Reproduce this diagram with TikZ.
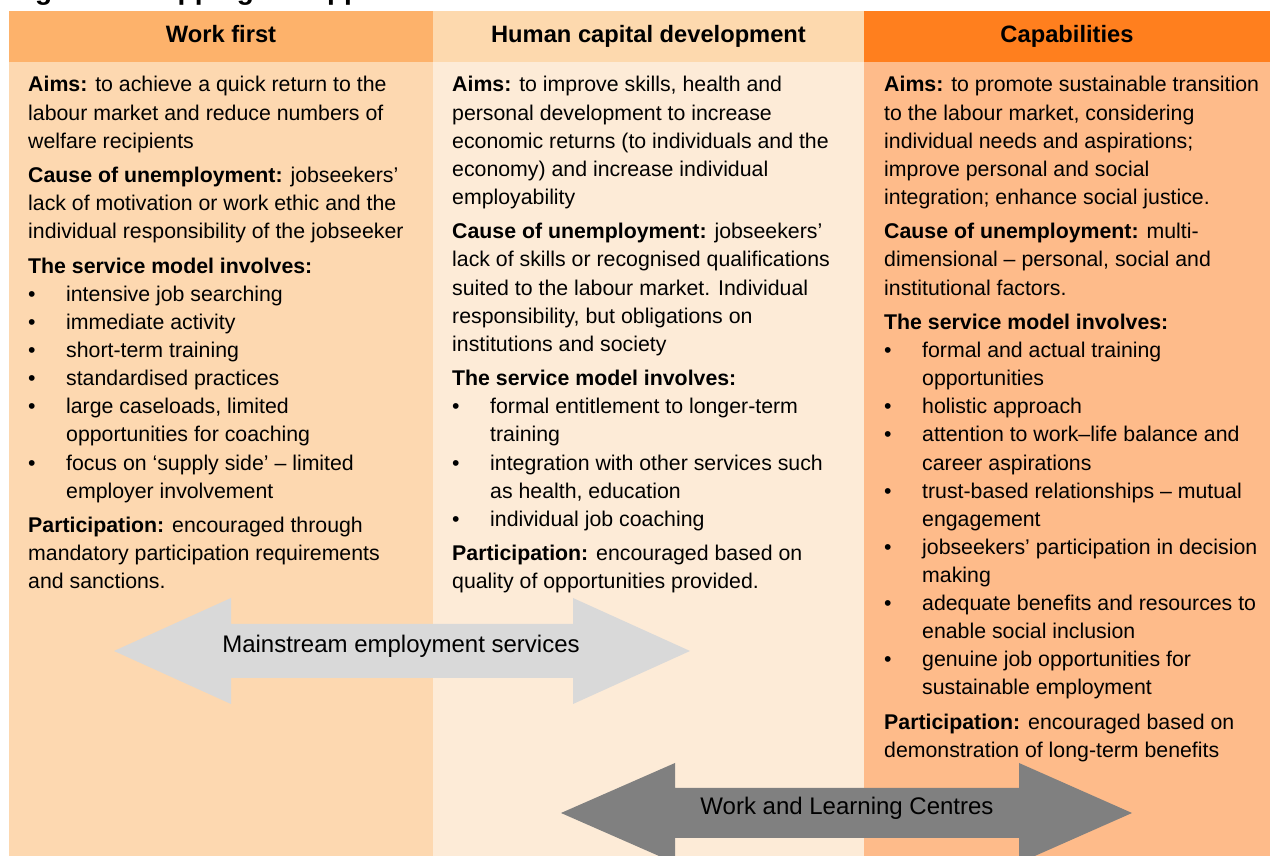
\documentclass[tikz,border=0pt]{standalone}
\usepackage{fontspec}
\setmainfont{Liberation Sans}
\definecolor{hdrA}{HTML}{FDB26B}
\definecolor{bodyA}{HTML}{FDD8B0}
\definecolor{hdrB}{HTML}{FDD9AE}
\definecolor{bodyB}{HTML}{FDEBD7}
\definecolor{hdrC}{HTML}{FF7F1E}
\definecolor{bodyC}{HTML}{FEBB8A}
\definecolor{arrLight}{HTML}{D9D9D9}
\definecolor{arrDark}{HTML}{808080}
\newcommand\myLn[1]{\hbox{#1}}
\newcommand\myBl[1]{\hbox{\hbox to 38pt{\textbullet\hss}#1}}
\newcommand\myCn[1]{\hbox{\hskip38pt #1}}
\newcommand\myGap{\vskip6.5pt}
\newcommand\myCol[1]{\vtop{\hsize=420pt\parindent=0pt\parskip=0pt\baselineskip=28.08pt\lineskiplimit=-100pt #1}}
\begin{document}
\begin{tikzpicture}[x=1pt,y=1pt,
  coltext/.style={anchor=base west, inner sep=0pt, font=\fontsize{21.3}{28.08}\selectfont},
  hdr/.style={anchor=base, inner sep=0pt, font=\fontsize{23.7}{28}\selectfont\bfseries},
  arrlbl/.style={anchor=base, inner sep=0pt, font=\fontsize{24}{28}\selectfont},
  ttl/.style={anchor=base west, inner sep=0pt, font=\fontsize{28}{32}\selectfont\bfseries}]
\useasboundingbox (0,0) rectangle (1270,856);
\clip (0,0) rectangle (1270,856);
\fill[white] (0,0) rectangle (1270,856);
% columns
\fill[bodyA] (9,0) rectangle (433,794);
\fill[hdrA] (9,794) rectangle (433,845);
\fill[bodyB] (433,0) rectangle (864,794);
\fill[hdrB] (433,794) rectangle (864,845);
\fill[bodyC] (864,0) rectangle (1270,794);
\fill[hdrC] (864,794) rectangle (1270,845);
% title (cut off at the top)
\node[ttl] (title) at (10,856) {Figure 1: Mapping the approaches of WLCs and mainstream services};
% headers
\node[hdr] (h1) at (221,813) {Work first};
\node[hdr] (h2) at (648.5,813) {Human capital development};
\node[hdr] (h3) at (1067,813) {Capabilities};
% column 1
\node[coltext] (t1) at (28,764) {\myCol{%
\myLn{\textbf{Aims:} to achieve a quick return to the}
\myLn{labour market and reduce numbers of}
\myLn{welfare recipients}
\myGap
\myLn{\textbf{Cause of unemployment:} jobseekers’}
\myLn{lack of motivation or work ethic and the}
\myLn{individual responsibility of the jobseeker}
\myGap
\myLn{\textbf{The service model involves:}}
\myBl{intensive job searching}
\myBl{immediate activity}
\myBl{short-term training}
\myBl{standardised practices}
\myBl{large caseloads, limited}
\myCn{opportunities for coaching}
\myBl{focus on ‘supply side’ – limited}
\myCn{employer involvement}
\myGap
\myLn{\textbf{Participation:} encouraged through}
\myLn{mandatory participation requirements}
\myLn{and sanctions.}}};
% column 2
\node[coltext] (t2) at (452,764) {\myCol{%
\myLn{\textbf{Aims:} to improve skills, health and}
\myLn{personal development to increase}
\myLn{economic returns (to individuals and the}
\myLn{economy) and increase individual}
\myLn{employability}
\myGap
\myLn{\textbf{Cause of unemployment:} jobseekers’}
\myLn{lack of skills or recognised qualifications}
\myLn{suited to the labour market. Individual}
\myLn{responsibility, but obligations on}
\myLn{institutions and society}
\myGap
\myLn{\textbf{The service model involves:}}
\myBl{formal entitlement to longer-term}
\myCn{training}
\myBl{integration with other services such}
\myCn{as health, education}
\myBl{individual job coaching}
\myGap
\myLn{\textbf{Participation:} encouraged based on}
\myLn{quality of opportunities provided.}}};
% column 3
\node[coltext] (t3) at (884,764) {\myCol{%
\myLn{\textbf{Aims:} to promote sustainable transition}
\myLn{to the labour market, considering}
\myLn{individual needs and aspirations;}
\myLn{improve personal and social}
\myLn{integration; enhance social justice.}
\myGap
\myLn{\textbf{Cause of unemployment:} multi-}
\myLn{dimensional – personal, social and}
\myLn{institutional factors.}
\myGap
\myLn{\textbf{The service model involves:}}
\myBl{formal and actual training}
\myCn{opportunities}
\myBl{holistic approach}
\myBl{attention to work–life balance and}
\myCn{career aspirations}
\myBl{trust-based relationships – mutual}
\myCn{engagement}
\myBl{jobseekers’ participation in decision}
\myCn{making}
\myBl{adequate benefits and resources to}
\myCn{enable social inclusion}
\myBl{genuine job opportunities for}
\myCn{sustainable employment}
\myGap
\myLn{\textbf{Participation:} encouraged based on}
\myLn{demonstration of long-term benefits}}};
% arrows
\fill[arrLight] (114,205) -- (231,258) -- (231,232) -- (573,232) -- (573,258) -- (690,205)
  -- (573,152) -- (573,178) -- (231,178) -- (231,152) -- cycle;
\node[arrlbl] (ms) at (401,203) {Mainstream employment services};
\fill[arrDark] (561,43) -- (675,93) -- (675,68) -- (1019,68) -- (1019,93) -- (1132,43)
  -- (1019,-7) -- (1019,18) -- (675,18) -- (675,-7) -- cycle;
\node[arrlbl] (wlc) at (847,41) {Work and Learning Centres};
\end{tikzpicture}
\end{document}
